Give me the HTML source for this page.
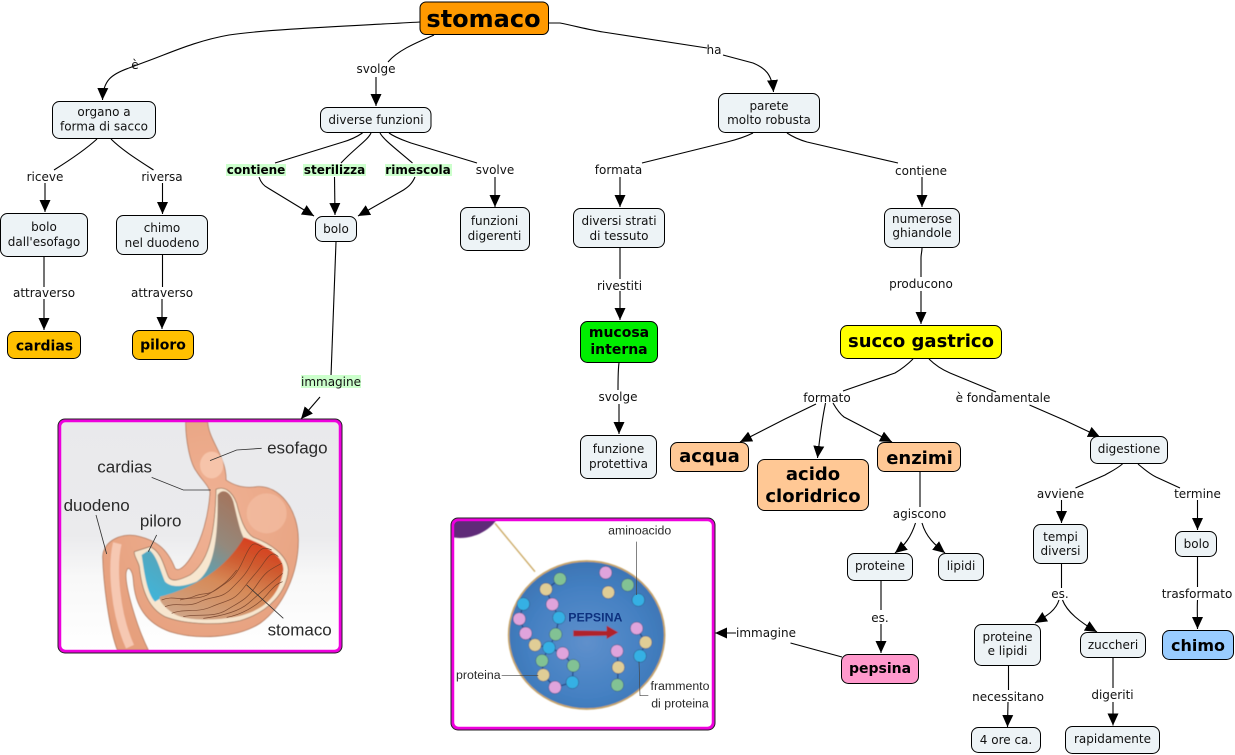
<!DOCTYPE html>
<html lang="it"><head><meta charset="utf-8"><title>stomaco</title>
<style>
html,body{margin:0;padding:0;background:#fff;width:1235px;height:755px;overflow:hidden}
svg{display:block}
text{font-family:"DejaVu Sans","Liberation Sans",sans-serif;font-size:12px;fill:#111;text-anchor:middle}
.b{font-weight:bold;fill:#000}
.c path{fill:none;stroke:#000;stroke-width:1.1}
.a path{fill:none;stroke:#000;stroke-width:1.1;marker-end:url(#ah)}
.n rect{stroke:#000;stroke-width:1;fill:#edf3f6}
.i text{font-family:"Liberation Sans",sans-serif;fill:#2a2a2a}
</style></head><body>
<svg width="1235" height="755" viewBox="0 0 1235 755" xmlns="http://www.w3.org/2000/svg">
<defs>
<marker id="ah" markerUnits="userSpaceOnUse" markerWidth="13" markerHeight="13" refX="12" refY="6" orient="auto"><path d="M0,0.5 L12,6 L0,11.5 Z" fill="#000"/></marker>
<filter id="bl" x="-5%" y="-5%" width="110%" height="110%"><feGaussianBlur stdDeviation="1.6"/></filter>
<filter id="tb" x="-5%" y="-20%" width="110%" height="140%"><feGaussianBlur stdDeviation="0.9"/></filter>
<linearGradient id="bg1" x1="0" y1="0" x2="0" y2="1"><stop offset="0" stop-color="#e9e9ec"/><stop offset=".5" stop-color="#ebebed"/><stop offset=".68" stop-color="#f8f8f8"/><stop offset="1" stop-color="#fff"/></linearGradient>
<linearGradient id="fold" x1="0.8" y1="0" x2="0.25" y2="1"><stop offset="0" stop-color="#d83a1c"/><stop offset=".28" stop-color="#cf5c30"/><stop offset=".55" stop-color="#d68a58"/><stop offset="1" stop-color="#cfa486"/></linearGradient>
<linearGradient id="cav" x1="0.85" y1="0" x2="0.15" y2="1"><stop offset="0" stop-color="#a5745c"/><stop offset=".35" stop-color="#94897c"/><stop offset=".6" stop-color="#5fa0b0"/><stop offset="1" stop-color="#40b4d8"/></linearGradient>
<radialGradient id="blue" cx=".5" cy=".55" r=".62"><stop offset="0" stop-color="#5f90cc"/><stop offset=".6" stop-color="#4480c2"/><stop offset="1" stop-color="#3a70ae"/></radialGradient>
<radialGradient id="sal" cx=".55" cy=".4" r=".7"><stop offset="0" stop-color="#f0b295"/><stop offset="1" stop-color="#e59f7c"/></radialGradient>
<clipPath id="cp1"><rect x="60" y="421" width="280" height="230" rx="5"/></clipPath>
<clipPath id="cp2"><rect x="453" y="520" width="260" height="208" rx="5"/></clipPath>
</defs>

<!-- plain connectors -->
<g class="c">
<path d="M420,22 C350,26 270,29 229,35 C195,41 170,53 145,62 L129,68"/>
<path d="M434,35 C418,42 398,50 388,62"/>
<path d="M549,23 L560,23 C575,26 590,30 603,32 L707,48"/>
<path d="M97,139 C85,150 70,160 54,170"/>
<path d="M111,139 C122,150 138,160 153.500,170"/>
<path d="M44,257 L44,287"/>
<path d="M162.500,255 L162.500,287"/>
<path d="M362.500,133 C355,138 350,140 343,142 L275,163"/>
<path d="M371,133 C368,140 355,148 341,163"/>
<path d="M380,133 C384,140 395,148 412.500,163"/>
<path d="M389,133 C396,138 403,140 411,143 L477,163"/>
<path d="M336,242 L331,376"/>
<path d="M753,133 C745,137 735,140 727,142 L642,163"/>
<path d="M787,133 C793,137 800,140 807,142 L898,163"/>
<path d="M620,247 L620,279"/>
<path d="M922,248 C922,252 921,254 921,258 L921,277"/>
<path d="M619,363 C618,370 618,375 618,390"/>
<path d="M913,359 C906,366 900,370 895,373 L843,391"/>
<path d="M929,359 C936,366 943,370 950,373 L996,392"/>
<path d="M1122.500,464 C1115,470 1110,472 1105,475 L1075.500,488"/>
<path d="M1138,464 C1145,470 1150,474 1156,477 L1180,488"/>
<path d="M920,472 L920,507"/>
<path d="M881,581 L881,610"/>
<path d="M842,657 L790.500,643"/>
<path d="M1061.500,564 L1061.500,588"/>
<path d="M1197.500,557 L1197.500,587"/>
<path d="M1008.500,666 L1008.500,690"/>
<path d="M1113,658 L1113,688"/>
</g>
<!-- arrows -->
<g class="a">
<path d="M129,68 C112,74 103,80 102.500,100"/>
<path d="M376,77 L376,106"/>
<path d="M723,55 L753,63 C765,68 772,74 773.500,92"/>
<path d="M45,183 L45,212"/>
<path d="M162.500,183 L162.500,214"/>
<path d="M44,299 L44,330"/>
<path d="M162,299 L162,329"/>
<path d="M259,177 C261,183 264,186 268,188 L314,216"/>
<path d="M334.500,177 L335,215"/>
<path d="M415,177 C412,184 408,187 403.500,190 L358,216"/>
<path d="M495,177 L495,207"/>
<path d="M320,397 L301,419"/>
<path d="M620,177 L620,207"/>
<path d="M922,177 L922,207"/>
<path d="M620,291 L620,320"/>
<path d="M921,291 L921,324"/>
<path d="M619,404 L619,434"/>
<path d="M816,404 L785,419 L740,442"/>
<path d="M825.500,403 C822,420 820,435 817.500,458"/>
<path d="M833,403 C837,410 840,414 844,417 L892,442"/>
<path d="M1029.500,405 L1064,420 L1100,437"/>
<path d="M1061.500,500 L1061.500,523"/>
<path d="M1197.500,500 L1197.500,530"/>
<path d="M915.500,523 C911,537 905,545 895,553"/>
<path d="M922,523 C926,537 935,545 945,553"/>
<path d="M881,624 L881,653"/>
<path d="M736,633 L715,633"/>
<path d="M1059,600 C1056,610 1048,615 1035,623"/>
<path d="M1062.500,600 C1067,612 1080,622 1097,632"/>
<path d="M1197.500,600 C1197,610 1197.500,615 1197.500,629"/>
<path d="M1008,702 L1007.500,727"/>
<path d="M1113,702 L1113,725.500"/>
</g>

<!-- nodes -->
<g class="n">
<rect x="420" y="2" width="128.500" height="32.500" rx="6" style="fill:#ff9900"/>
<rect x="52.500" y="101.500" width="103" height="37" rx="7"/>
<rect x="320.500" y="107.500" width="110.500" height="25" rx="7"/>
<rect x="718.500" y="93.500" width="101" height="39" rx="7"/>
<rect x="0.500" y="213.500" width="87" height="43" rx="7"/>
<rect x="116.500" y="215.500" width="91" height="39" rx="7"/>
<rect x="315.500" y="216.500" width="41" height="25" rx="7"/>
<rect x="460.500" y="207.500" width="69" height="43" rx="7"/>
<rect x="573.500" y="208.500" width="91" height="39" rx="7"/>
<rect x="884.500" y="208.500" width="75" height="39" rx="7"/>
<rect x="7.500" y="331.500" width="73" height="27" rx="7" style="fill:#ffc000"/>
<rect x="132.500" y="330.500" width="61" height="29" rx="7" style="fill:#ffc000"/>
<rect x="580.500" y="321.500" width="77" height="41" rx="7" style="fill:#00ee00"/>
<rect x="840.500" y="325.500" width="161" height="33" rx="7" style="fill:#ffff00"/>
<rect x="580.500" y="435.500" width="76" height="43" rx="7"/>
<rect x="670.500" y="442.500" width="78" height="29" rx="7" style="fill:#ffc895"/>
<rect x="757.500" y="459.500" width="111" height="51" rx="7" style="fill:#ffc895"/>
<rect x="877.500" y="442.500" width="83" height="29" rx="7" style="fill:#ffc895"/>
<rect x="1090.500" y="436.500" width="77" height="27" rx="7"/>
<rect x="1033.500" y="524.500" width="54" height="39" rx="7"/>
<rect x="1175.500" y="531.500" width="41" height="25" rx="7"/>
<rect x="847.500" y="553.500" width="65" height="27" rx="7"/>
<rect x="938.500" y="553.500" width="45" height="27" rx="7"/>
<rect x="841.500" y="654.500" width="77" height="29" rx="7" style="fill:#ff99cc"/>
<rect x="974.500" y="624.500" width="66" height="41" rx="7"/>
<rect x="1080.500" y="632.500" width="65" height="25" rx="7"/>
<rect x="1162.500" y="630.500" width="71" height="29" rx="7" style="fill:#99ccff"/>
<rect x="971.500" y="727.500" width="69" height="25" rx="7"/>
<rect x="1065.500" y="726.500" width="94" height="27" rx="7"/>
</g>

<!-- green label backgrounds -->
<g fill="#ccffcc">
<rect x="226" y="164" width="60" height="12"/>
<rect x="303" y="164" width="63" height="12"/>
<rect x="385" y="164" width="67" height="12"/>
<rect x="301" y="375" width="60" height="13"/>
</g>

<!-- node text -->
<text x="483.500" y="27" class="b" style="font-size:24px">stomaco</text>
<text x="104" y="116">organo a</text><text x="104" y="130.500">forma di sacco</text>
<text x="376" y="124">diverse funzioni</text>
<text x="769" y="110">parete</text><text x="769" y="124">molto robusta</text>
<text x="44" y="231">bolo</text><text x="44" y="246">dall'esofago</text>
<text x="162" y="232">chimo</text><text x="162" y="247">nel duodeno</text>
<text x="336" y="233">bolo</text>
<text x="494.500" y="225">funzioni</text><text x="494.500" y="240">digerenti</text>
<text x="619" y="225">diversi strati</text><text x="619" y="240">di tessuto</text>
<text x="922" y="223">numerose</text><text x="922" y="237">ghiandole</text>
<text x="44.500" y="350.500" class="b" style="font-size:14px">cardias</text>
<text x="163" y="349.500" class="b" style="font-size:14px">piloro</text>
<text x="619" y="337" class="b" style="font-size:14px">mucosa</text><text x="619" y="354" class="b" style="font-size:14px">interna</text>
<text x="921" y="347" class="b" style="font-size:18px">succo gastrico</text>
<text x="618.500" y="453">funzione</text><text x="618.500" y="468">protettiva</text>
<text x="709.500" y="462" class="b" style="font-size:18px">acqua</text>
<text x="813" y="480" class="b" style="font-size:18px">acido</text><text x="813" y="502" class="b" style="font-size:18px">cloridrico</text>
<text x="919.500" y="464" class="b" style="font-size:18px">enzimi</text>
<text x="1129" y="453">digestione</text>
<text x="1060.500" y="541">tempi</text><text x="1060.500" y="555">diversi</text>
<text x="1196.500" y="548">bolo</text>
<text x="880" y="570">proteine</text>
<text x="961" y="570">lipidi</text>
<text x="880" y="673" class="b" style="font-size:14px">pepsina</text>
<text x="1007.500" y="641">proteine</text><text x="1007.500" y="655">e lipidi</text>
<text x="1113" y="649">zuccheri</text>
<text x="1198" y="651" class="b" style="font-size:16px">chimo</text>
<text x="1006" y="744">4 ore ca.</text>
<text x="1112.500" y="743">rapidamente</text>

<!-- connector labels -->
<text x="135" y="69">è</text>
<text x="376" y="73">svolge</text>
<text x="714" y="54">ha</text>
<text x="45" y="181">riceve</text>
<text x="162" y="181">riversa</text>
<text x="44" y="297">attraverso</text>
<text x="162" y="297">attraverso</text>
<text x="256" y="174" class="b">contiene</text>
<text x="334.500" y="174" class="b">sterilizza</text>
<text x="418" y="174" class="b">rimescola</text>
<text x="495" y="174">svolve</text>
<text x="331" y="386">immagine</text>
<text x="618.500" y="174">formata</text>
<text x="921" y="175">contiene</text>
<text x="619.500" y="290">rivestiti</text>
<text x="921" y="288">producono</text>
<text x="618" y="401">svolge</text>
<text x="827" y="402">formato</text>
<text x="1003" y="402">è fondamentale</text>
<text x="919.500" y="518">agiscono</text>
<text x="1060.500" y="498">avviene</text>
<text x="1197.500" y="498">termine</text>
<text x="880" y="622">es.</text>
<text x="766" y="637">immagine</text>
<text x="1060" y="598">es.</text>
<text x="1197" y="598">trasformato</text>
<text x="1008" y="701">necessitano</text>
<text x="1112.500" y="699">digeriti</text>

<!-- stomach image -->
<rect x="60" y="421" width="280" height="230" rx="5" fill="#fff"/>
<g clip-path="url(#cp1)">
<rect x="60" y="421" width="280" height="230" fill="url(#bg1)"/>
<g class="i" transform="translate(40,400) scale(.33333)">
<g filter="url(#bl)">
<path d="M437,65 L503,65 C505,120 560,170 558,240 C590,262 620,265 650,260 C720,255 775,330 775,420 C775,520 730,620 660,670 C590,715 470,720 390,695 C320,670 285,620 280,540 C278,510 262,490 258,520 C255,560 290,680 325,750 L232,750 C205,680 190,540 188,470 C190,420 250,395 300,410 C340,420 380,440 405,505 C425,530 500,430 510,280 C510,260 485,240 470,215 C450,190 437,120 437,65 Z" fill="url(#sal)" stroke="#a5684a" stroke-width="2"/>
<ellipse cx="515" cy="195" rx="35" ry="40" fill="#f6c4aa"/>
<ellipse cx="680" cy="340" rx="60" ry="60" fill="#f3bda2" opacity=".7"/>
<path d="M232,430 C215,500 225,640 270,740" fill="none" stroke="#f6c8b2" stroke-width="26"/>
<path d="M528,268 C550,258 575,270 590,310 C600,350 612,395 640,412 C690,430 742,465 745,510 C740,575 690,635 600,662 C530,678 430,672 375,650 C325,625 305,570 298,500 C295,485 280,465 283,455 L330,440 C365,455 372,500 385,530 C395,548 420,540 450,525 C500,490 525,420 528,268 Z" fill="#f7e6cf" stroke="#8a6248" stroke-width="2"/>
<path d="M533,285 C546,265 570,272 580,305 C592,355 600,395 612,415 C590,470 540,520 470,555 L370,590 L345,605 C320,580 312,510 305,465 L328,450 C352,470 360,510 375,545 C395,565 430,560 470,545 C515,515 535,440 533,285 Z" fill="url(#cav)"/>
<path d="M612,412 C680,436 732,470 730,510 C720,580 680,630 590,650 C510,665 430,660 400,640 C370,620 355,600 360,590 C440,570 550,520 612,412 Z" fill="url(#fold)"/>
</g>
<g fill="none" stroke="#6e3a24" stroke-width="2.200" opacity=".8">
<path d="M365,600 C400,585 425,605 460,590 S500,590 535,565 S585,535 610,480 S640,425 665,440"/>
<path d="M375,620 C410,605 440,625 480,605 S540,600 575,565 S620,520 640,480 S675,440 695,450"/>
<path d="M395,640 C430,625 470,640 515,620 S580,605 610,565 S650,520 670,490 S700,455 715,470"/>
<path d="M430,650 C470,640 520,655 560,630 S620,600 650,555 S690,510 725,490"/>
<path d="M490,655 C530,650 590,640 625,610 S680,560 728,520"/>
<path d="M560,652 C600,645 650,620 680,585 S715,550 728,545"/>
<path d="M420,600 C450,590 480,600 510,580 S560,550 590,510"/>
</g>
<g fill="none" stroke="#333" stroke-width="2.500">
<path d="M510,182 L590,150 L665,145"/>
<path d="M335,232 L430,270 L512,270"/>
<path d="M168,345 L200,462"/>
<path d="M350,405 L325,455"/>
<path d="M620,555 L730,655"/>
</g>
<text x="772" y="160" style="font-size:51px">esofago</text>
<text x="254" y="217" style="font-size:51px">cardias</text>
<text x="170" y="333" style="font-size:51px">duodeno</text>
<text x="362" y="380" style="font-size:51px">piloro</text>
<text x="779" y="707" style="font-size:51px">stomaco</text>
</g>
</g>
<rect x="59.500" y="420.500" width="281" height="231" rx="6" fill="none" stroke="#ee00dd" stroke-width="3.500"/>
<rect x="58" y="419" width="284" height="234" rx="7" fill="none" stroke="#222" stroke-width="1"/>

<!-- pepsin image -->
<rect x="453" y="520" width="260" height="208" rx="5" fill="#fff"/>
<g clip-path="url(#cp2)">
<g class="i" transform="translate(440,505) scale(.33333)">
<g filter="url(#bl)">
<path d="M30,40 L172,40 C150,80 85,110 30,95 Z" fill="#5f2a78"/>
<path d="M165,55 L285,200" stroke="#caa760" stroke-width="4" fill="none"/>
<ellipse cx="440" cy="390" rx="234" ry="222" fill="url(#blue)" stroke="#c8a568" stroke-width="5"/>
<path d="M400,376 L500,378 L500,362 L535,382 L500,402 L500,392 L400,394 Z" fill="#b0202c"/>
<g stroke="#1f3f7a" stroke-width="4" fill="none" opacity=".8">
<path d="M360,222 L318,253 L337,298 L357,338 L347,388 L327,428 L285,420 L257,385 L238,342 L250,297"/>
<path d="M327,428 L306,467 L310,510 L345,547 L397,532 L400,482 L368,445 L327,428"/>
<path d="M590,370 L617,412 L600,453"/>
<path d="M531,438 L535,487 L532,540"/>
</g>
<g stroke="#2c4470" stroke-width="1.500">
<g fill="#82c294"><circle cx="360" cy="222" r="19"/><circle cx="347" cy="388" r="19"/><circle cx="306" cy="467" r="19"/><circle cx="400" cy="482" r="19"/><circle cx="563" cy="240" r="19"/><circle cx="532" cy="540" r="19"/></g>
<g fill="#e0cd96"><circle cx="318" cy="253" r="19"/><circle cx="285" cy="420" r="19"/><circle cx="310" cy="510" r="19"/><circle cx="505" cy="262" r="19"/><circle cx="617" cy="412" r="19"/><circle cx="535" cy="487" r="19"/></g>
<g fill="#e0a4dc"><circle cx="337" cy="298" r="19"/><circle cx="257" cy="385" r="19"/><circle cx="238" cy="342" r="19"/><circle cx="368" cy="445" r="19"/><circle cx="345" cy="547" r="19"/><circle cx="497" cy="203" r="19"/><circle cx="590" cy="370" r="19"/><circle cx="531" cy="438" r="19"/></g>
<g fill="#34b0e4"><circle cx="357" cy="338" r="19"/><circle cx="250" cy="297" r="19"/><circle cx="327" cy="428" r="19"/><circle cx="397" cy="532" r="19"/><circle cx="595" cy="285" r="19"/><circle cx="600" cy="453" r="19"/></g>
</g>
</g>
<g fill="none" stroke="#444" stroke-width="2">
<path d="M590,110 L590,270"/><path d="M185,512 L295,512"/><path d="M597,470 L600,572 L625,572"/>
</g>
<g filter="url(#tb)">
<text x="466" y="350" style="font-size:37px;fill:#10307f;font-weight:bold">PEPSINA</text>
<text x="599" y="88" style="font-size:37px">aminoacido</text>
<text x="115" y="522" style="font-size:37px">proteina</text>
<text x="720" y="555" style="font-size:37px">frammento</text>
<text x="720" y="608" style="font-size:37px">di proteina</text>
</g>
</g>
</g>
<rect x="452.500" y="519.500" width="261" height="209" rx="6" fill="none" stroke="#ee00dd" stroke-width="3.500"/>
<rect x="451" y="518" width="264" height="212" rx="7" fill="none" stroke="#222" stroke-width="1"/>
</svg>
</body></html>
